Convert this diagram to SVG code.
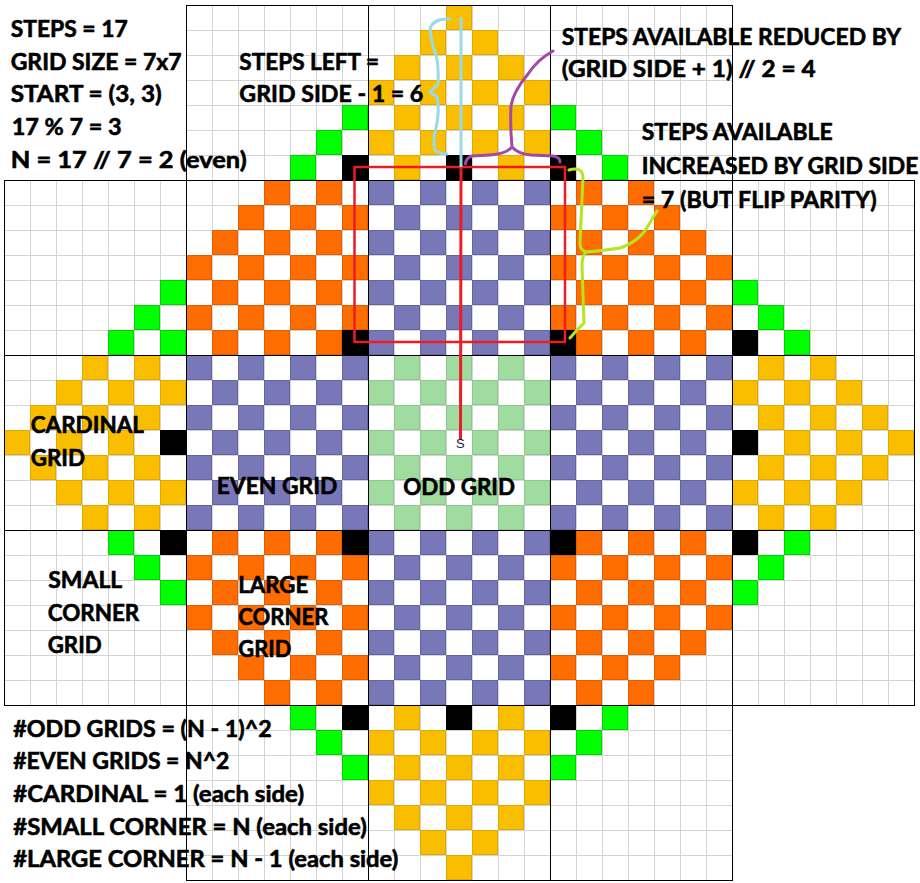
<svg xmlns="http://www.w3.org/2000/svg" width="920" height="883" viewBox="0 0 920 883">
<style>
.t{font-family:Lato,"Open Sans","Liberation Sans",sans-serif;font-weight:bold;font-size:23px;fill:#000;stroke:#000;stroke-width:0.6}
.bl{fill:none;stroke:#000;stroke-width:1;shape-rendering:crispEdges}
.br{fill:none;stroke-width:3;stroke-linecap:round;stroke-linejoin:round}
.blk{fill:#000}
</style>
<defs>
<pattern id="grid" width="26" height="25" patternUnits="userSpaceOnUse" x="4" y="5">
<path d="M0.5 0V25M0 0.5H26" stroke="#d4d4d4" stroke-width="1" fill="none"/>
</pattern>
<pattern id="pY" width="52" height="50" patternUnits="userSpaceOnUse" x="4" y="5">
<rect x="26.5" y="0.5" width="25" height="24" fill="#fabe00" stroke="#e2a800"/>
<rect x="0.5" y="25.5" width="25" height="24" fill="#fabe00" stroke="#e2a800"/>
</pattern>
<pattern id="pP" width="52" height="50" patternUnits="userSpaceOnUse" x="4" y="5">
<rect x="26.5" y="0.5" width="25" height="24" fill="#7878b9" stroke="#6464a4"/>
<rect x="0.5" y="25.5" width="25" height="24" fill="#7878b9" stroke="#6464a4"/>
</pattern>
<pattern id="pO" width="52" height="50" patternUnits="userSpaceOnUse" x="4" y="5">
<rect x="26.5" y="0.5" width="25" height="24" fill="#ff6c00" stroke="#e25c00"/>
<rect x="0.5" y="25.5" width="25" height="24" fill="#ff6c00" stroke="#e25c00"/>
</pattern>
<pattern id="pL" width="52" height="50" patternUnits="userSpaceOnUse" x="4" y="5">
<rect x="26.5" y="0.5" width="25" height="24" fill="#a0dca0" stroke="#8cc88c"/>
<rect x="0.5" y="25.5" width="25" height="24" fill="#a0dca0" stroke="#8cc88c"/>
</pattern>
<pattern id="pG" width="52" height="50" patternUnits="userSpaceOnUse" x="4" y="5">
<rect x="26.5" y="0.5" width="25" height="24" fill="#00ff00" stroke="#00d400"/>
<rect x="0.5" y="25.5" width="25" height="24" fill="#00ff00" stroke="#00d400"/>
</pattern>
<clipPath id="dia"><polygon points="459,-7.5 927,442.5 459,892.5 -9,442.5"/></clipPath>
</defs>
<rect width="920" height="883" fill="#fff"/>
<g id="gridlines">
<path d="M186 5H732V180H914V705H732V880H186V705H4V180H186Z" fill="url(#grid)"/>
</g>
<g id="cells" clip-path="url(#dia)">
<rect id="cardinal-top" x="368" y="5" width="182" height="175" fill="url(#pY)"/>
<rect id="cardinal-left" x="4" y="355" width="182" height="175" fill="url(#pY)"/>
<rect id="cardinal-right" x="732" y="355" width="182" height="175" fill="url(#pY)"/>
<rect id="cardinal-bottom" x="368" y="705" width="182" height="175" fill="url(#pY)"/>
<rect id="even-top" x="368" y="180" width="182" height="175" fill="url(#pP)"/>
<rect id="even-left" x="186" y="355" width="182" height="175" fill="url(#pP)"/>
<rect id="even-right" x="550" y="355" width="182" height="175" fill="url(#pP)"/>
<rect id="even-bottom" x="368" y="530" width="182" height="175" fill="url(#pP)"/>
<rect id="large-tl" x="186" y="180" width="182" height="175" fill="url(#pO)"/>
<rect id="large-tr" x="550" y="180" width="182" height="175" fill="url(#pO)"/>
<rect id="large-bl" x="186" y="530" width="182" height="175" fill="url(#pO)"/>
<rect id="large-br" x="550" y="530" width="182" height="175" fill="url(#pO)"/>
<rect id="odd-center" x="368" y="355" width="182" height="175" fill="url(#pL)"/>
<rect id="small-1" x="186" y="5" width="182" height="175" fill="url(#pG)"/>
<rect id="small-2" x="550" y="5" width="182" height="175" fill="url(#pG)"/>
<rect id="small-3" x="4" y="180" width="182" height="175" fill="url(#pG)"/>
<rect id="small-4" x="732" y="180" width="182" height="175" fill="url(#pG)"/>
<rect id="small-5" x="4" y="530" width="182" height="175" fill="url(#pG)"/>
<rect id="small-6" x="732" y="530" width="182" height="175" fill="url(#pG)"/>
<rect id="small-7" x="186" y="705" width="182" height="175" fill="url(#pG)"/>
<rect id="small-8" x="550" y="705" width="182" height="175" fill="url(#pG)"/>
</g>
<g id="black-cells" class="blk">
<rect x="342" y="155" width="26" height="25"/>
<rect x="446" y="155" width="26" height="25"/>
<rect x="550" y="155" width="26" height="25"/>
<rect x="160" y="430" width="26" height="25"/>
<rect x="160" y="530" width="26" height="25"/>
<rect x="732" y="330" width="26" height="25"/>
<rect x="732" y="430" width="26" height="25"/>
<rect x="732" y="530" width="26" height="25"/>
<rect x="342" y="705" width="26" height="25"/>
<rect x="446" y="705" width="26" height="25"/>
<rect x="550" y="705" width="26" height="25"/>
<rect x="342" y="330" width="26" height="25"/>
<rect x="550" y="330" width="26" height="25"/>
<rect x="342" y="530" width="26" height="25"/>
<rect x="550" y="530" width="26" height="25"/>
</g>
<g id="block-borders" class="bl">
<path d="M186.5 5.5H732.5V180.5H914.5V705.5H732.5V880.5H186.5V705.5H4.5V180.5H186.5Z"/>
<path d="M4.5 355.5H914.5M4.5 530.5H914.5M186.5 180.5H732.5M186.5 705.5H732.5"/>
<path d="M368.5 5.5V880.5M550.5 5.5V880.5M186.5 180.5V705.5M732.5 180.5V705.5"/>
</g>
<g id="connectors">
<rect x="354.5" y="167" width="210.5" height="175" fill="none" stroke="#ed1c24" stroke-width="2.5"/>
<path d="M461 167L460.5 440" fill="none" stroke="#ed1c24" stroke-width="3"/>
<path d="M461 17V167" fill="none" stroke="#99d9ea" stroke-width="3"/>
<path class="br" stroke="#99d9ea" d="M450 19Q433 18 430 29Q431 42 436 55Q439 68 438 84L430 92L437 97Q440 110 436 128Q432 143 435 150Q439 154 447 154"/>
<path class="br" stroke="#a349a4" d="M553 51Q537 60 528 74Q513 92 511 106Q510 126 512 147M512 147Q506 154 490 155L472 156Q466 158 465.5 164M512 147Q518 154 531 155L553 156Q560 157 560 162"/>
<path class="br" stroke="#b5e61d" d="M569 170Q583 166 583 178L580 243Q580 250 586 252M586 252Q600 251 620 248Q640 241 648 226L657 211M586 252Q582 256 582 266L584 323L577 330L570 338"/>
</g>
<g id="labels">
<text class="t" x="10.7" y="37" textLength="117" lengthAdjust="spacingAndGlyphs">STEPS = 17</text>
<text class="t" x="10.7" y="70" textLength="171" lengthAdjust="spacingAndGlyphs">GRID SIZE = 7x7</text>
<text class="t" x="10.7" y="102" textLength="151" lengthAdjust="spacingAndGlyphs">START = (3, 3)</text>
<text class="t" x="11.7" y="135" textLength="110" lengthAdjust="spacingAndGlyphs">17 % 7 = 3</text>
<text class="t" x="10.7" y="168" textLength="236" lengthAdjust="spacingAndGlyphs">N = 17 // 7 = 2 (even)</text>
<text class="t" x="239.3" y="70" textLength="139.7" lengthAdjust="spacingAndGlyphs">STEPS LEFT =</text>
<text class="t" x="239.3" y="102" textLength="184" lengthAdjust="spacingAndGlyphs">GRID SIDE - 1 = 6</text>
<text class="t" x="561.7" y="44.5" textLength="339.3" lengthAdjust="spacingAndGlyphs">STEPS AVAILABLE REDUCED BY</text>
<text class="t" x="561.7" y="77" textLength="254" lengthAdjust="spacingAndGlyphs">(GRID SIDE + 1) // 2 = 4</text>
<text class="t" x="641.7" y="140" textLength="191" lengthAdjust="spacingAndGlyphs">STEPS AVAILABLE</text>
<text class="t" x="641.7" y="174" textLength="276.6" lengthAdjust="spacingAndGlyphs">INCREASED BY GRID SIDE</text>
<text class="t" x="641.7" y="208" textLength="235" lengthAdjust="spacingAndGlyphs">= 7 (BUT FLIP PARITY)</text>
<text class="t" x="30.7" y="432.7" textLength="113.3" lengthAdjust="spacingAndGlyphs">CARDINAL</text>
<text class="t" x="30.7" y="465.7" textLength="54.3" lengthAdjust="spacingAndGlyphs">GRID</text>
<text class="t" x="216.7" y="494" textLength="120.6" lengthAdjust="spacingAndGlyphs">EVEN GRID</text>
<text class="t" x="403.3" y="495" textLength="111.7" lengthAdjust="spacingAndGlyphs">ODD GRID</text>
<text class="t" x="48.3" y="587.7" textLength="74" lengthAdjust="spacingAndGlyphs">SMALL</text>
<text class="t" x="47.7" y="620.7" textLength="91.6" lengthAdjust="spacingAndGlyphs">CORNER</text>
<text class="t" x="47.7" y="652.7" textLength="54" lengthAdjust="spacingAndGlyphs">GRID</text>
<text class="t" x="238.3" y="592.7" textLength="70" lengthAdjust="spacingAndGlyphs">LARGE</text>
<text class="t" x="238.3" y="625" textLength="90" lengthAdjust="spacingAndGlyphs">CORNER</text>
<text class="t" x="238.3" y="657.3" textLength="53" lengthAdjust="spacingAndGlyphs">GRID</text>
<text class="t" x="13.3" y="736.7" textLength="258.4" lengthAdjust="spacingAndGlyphs">#ODD GRIDS = (N - 1)^2</text>
<text class="t" x="13.3" y="769" textLength="216" lengthAdjust="spacingAndGlyphs">#EVEN GRIDS = N^2</text>
<text class="t" x="13.3" y="801.7" textLength="290.7" lengthAdjust="spacingAndGlyphs">#CARDINAL = 1 (each side)</text>
<text class="t" x="13.3" y="835" textLength="353.4" lengthAdjust="spacingAndGlyphs">#SMALL CORNER = N (each side)</text>
<text class="t" x="13.3" y="867.3" textLength="385" lengthAdjust="spacingAndGlyphs">#LARGE CORNER = N - 1 (each side)</text>
<text x="456" y="448" font-family="'Liberation Sans',sans-serif" font-size="13" fill="#1a1a3a">S</text>
</g>
</svg>
